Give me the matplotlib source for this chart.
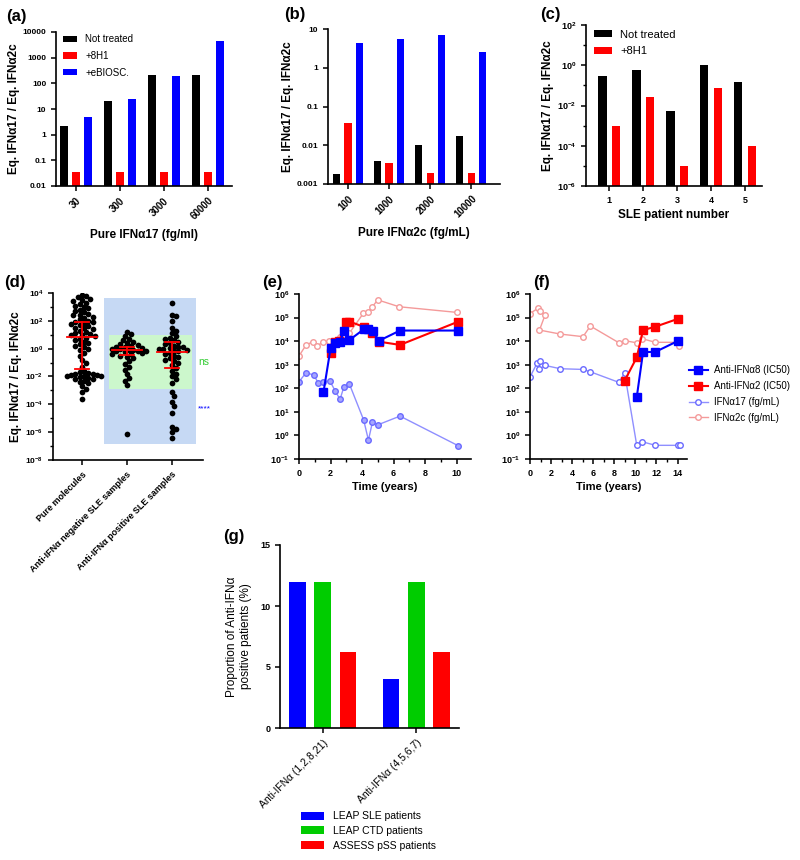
import numpy as np
import matplotlib
matplotlib.use("Agg")
import matplotlib.pyplot as plt
from matplotlib.patches import Rectangle
from matplotlib.lines import Line2D
from matplotlib.ticker import FixedLocator, NullLocator, NullFormatter

plt.rcParams['font.family'] = ['Liberation Sans', 'DejaVu Sans']
plt.rcParams['mathtext.fontset'] = 'custom'
plt.rcParams['mathtext.rm'] = 'Liberation Sans:bold'
plt.rcParams['mathtext.bf'] = 'Liberation Sans:bold'
plt.rcParams['mathtext.default'] = 'bf'
plt.rcParams['axes.linewidth'] = 1.2

# ---------------- data ----------------
# (a)
a_cats = ["30", "300", "3000", "60000"]
a_not = [2.2, 21, 215, 205]
a_8h1 = [0.036, 0.036, 0.036, 0.036]
a_ebio = [4.8, 24, 195, 4300]
# (b)
b_cats = ["100", "1000", "2000", "10000"]
b_not = [0.0018, 0.004, 0.0102, 0.017]
b_8h1 = [0.037, 0.0035, 0.0019, 0.0019]
b_ebio = [4.4, 5.6, 7.1, 2.6]
# (c)
c_pat = [1, 2, 3, 4, 5]
c_not = [0.29, 0.61, 0.0052, 0.98, 0.14]
c_8h1 = [0.00098, 0.025, 9.5e-6, 0.07, 1e-4]
# (d) log10 values of the individual samples
d_cats = ["Pure molecules", "Anti-IFN\u03b1 negative SLE samples", "Anti-IFN\u03b1 positive SLE samples"]
d_pure = [3.85, 3.75, 3.7, 3.6, 3.5, 3.45, 3.3, 3.2, 3.1, 3.0, 2.9, 2.8, 2.7, 2.6, 2.5,
          2.45, 2.4, 2.3, 2.2, 2.1, 2.0, 1.95, 1.9, 1.85, 1.8, 1.7, 1.6, 1.5, 1.45, 1.4,
          1.3, 1.2, 1.1, 1.05, 1.0, 0.95, 0.9, 0.8, 0.7, 0.6, 0.5, 0.4, 0.3, 0.2, 0.1,
          0.0, -0.1, -0.3, -0.5, -0.8, -1.0, -1.3, -1.6, -1.7, -1.75, -1.8, -1.85,
          -1.9, -1.9, -1.95, -2.0, -2.0, -2.05, -2.1, -2.15, -2.2, -2.3, -2.4, -2.5,
          -2.7, -2.9, -3.1, -3.6]
d_neg = [1.2, 1.05, 0.9, 0.7, 0.6, 0.5, 0.4, 0.3, 0.25, 0.2, 0.15, 0.1, 0.05, 0.0, -0.05,
         -0.1, -0.1, -0.15, -0.2, -0.2, -0.25, -0.3, -0.35, -0.4, -0.5, -0.6, -0.7, -0.9,
         -1.1, -1.3, -1.5, -1.8, -2.1, -2.3, -2.6, -6.1]
d_pos = [3.3, 2.45, 2.35, 2.0, 1.5, 1.3, 1.1, 0.9, 0.8, 0.7, 0.6, 0.5, 0.4, 0.3, 0.2, 0.15,
         0.1, 0.05, 0.0, -0.05, -0.1, -0.15, -0.2, -0.3, -0.4, -0.5, -0.6, -0.7, -0.8,
         -0.9, -1.0, -1.2, -1.4, -1.6, -1.8, -2.0, -2.2, -2.5, -3.1, -3.4, -3.8, -4.1,
         -4.6, -5.6, -5.8, -6.0, -6.4]
d_mean = [0.81, -0.1, -0.22]
d_hi = [1.94, 0.14, 0.47]
d_lo = [-1.49, -0.46, -1.37]
# (e) patient 1
e_a8_t = [1.55, 2.0, 2.3, 2.6, 2.85, 3.2, 4.1, 4.4, 4.7, 5.05, 6.4, 10.1]
e_a8_v = [1.83, 3.69, 3.93, 3.95, 4.44, 4.05, 4.5, 4.5, 4.45, 4.01, 4.45, 4.45]
e_a2_t = [2.0, 2.3, 2.55, 2.95, 3.2, 4.1, 4.65, 5.05, 6.4, 10.1]
e_a2_v = [3.51, 3.98, 4.0, 4.83, 4.83, 4.61, 4.36, 3.98, 3.84, 4.83]
e_17_t = [0, 0.45, 0.95, 1.2, 1.55, 1.95, 2.3, 2.6, 2.85, 3.2, 4.1, 4.4, 4.65, 5.0, 6.4, 10.1]
e_17_v = [2.28, 2.66, 2.56, 2.24, 2.27, 2.32, 1.88, 1.53, 2.07, 2.17, 0.65, -0.2, 0.55,
          0.45, 0.82, -0.44]
e_2c_t = [0, 0.45, 0.9, 1.16, 1.54, 1.92, 2.3, 2.6, 2.9, 3.18, 4.08, 4.38, 4.65, 4.99,
          6.34, 10.0]
e_2c_v = [3.37, 3.84, 3.98, 3.81, 3.96, 4.0, 3.95, 4.19, 4.25, 4.33, 5.18, 5.25, 5.46,
          5.75, 5.46, 5.22]
# (f) patient 2
f_a8_t = [10.13, 10.73, 11.88, 14.0]
f_a8_v = [1.62, 3.54, 3.54, 4.0]
f_a2_t = [8.98, 10.13, 10.73, 11.88, 14.0]
f_a2_v = [2.32, 3.31, 4.47, 4.61, 4.94]
f_17_t = [0, 0.7, 0.96, 0.9, 1.43, 2.87, 5.03, 5.73, 8.44, 8.98, 10.13, 10.67, 11.9, 14.0, 14.2]
f_17_v = [2.48, 3.09, 3.17, 2.82, 2.97, 2.83, 2.8, 2.7, 2.25, 2.65, -0.42, -0.27, -0.42,
          -0.42, -0.42]
f_2c_t = [0, 0.73, 0.96, 1.43, 0.9, 2.87, 5.03, 5.73, 8.44, 8.98, 10.13, 10.67, 11.9, 14.0, 14.1]
f_2c_v = [5.17, 5.39, 5.29, 5.11, 4.47, 4.3, 4.19, 4.64, 3.93, 4.02, 3.93, 4.1, 3.95,
          3.95, 3.81]
# (g)
g_cats = ["Anti-IFN\u03b1 (1,2,8,21)", "Anti-IFN\u03b1 (4,5,6,7)"]
g_sle = [12, 4]
g_ctd = [12, 12]
g_pss = [6.25, 6.25]

RED = '#ff0000'
BLUE = '#0000ff'
LRED = '#f49a9a'
LBLUE = '#8f8fff'
YLAB = 'Eq. IFN\u03b117 / Eq. IFN\u03b12c'

W, H = 800, 860
fig = plt.figure(figsize=(8, 8.6), dpi=100)


def add_ax(l, r, t, b):
    return fig.add_axes([l / W, 1 - b / H, (r - l) / W, (b - t) / H])


def style(ax, fs=6.5, xfs=None, bold=True):
    for s in ['top', 'right']:
        ax.spines[s].set_visible(False)
    ax.tick_params(labelsize=fs, length=3.5, width=1.1)
    if xfs:
        ax.tick_params(axis='x', labelsize=xfs)
    for lab in ax.get_xticklabels() + ax.get_yticklabels():
        lab.set_fontweight('bold' if bold else 'normal')


def label(x, y, s):
    fig.text(x / W, 1 - y / H, s, fontsize=12, fontweight='bold', va='center', ha='left')


def logticks(ax, exps, minor_exps=None, fmt=None):
    ax.yaxis.set_major_locator(FixedLocator([10.0 ** e for e in exps]))
    if fmt is None:
        ax.set_yticklabels([r'$10^{%d}$' % e for e in exps])
    else:
        ax.set_yticklabels(fmt)
    if minor_exps:
        ax.yaxis.set_minor_locator(FixedLocator([10.0 ** e for e in minor_exps]))
    else:
        ax.yaxis.set_minor_locator(NullLocator())
    ax.yaxis.set_minor_formatter(NullFormatter())
    ax.tick_params(axis='y', which='minor', length=2, width=1)


# ---------------- (a) ----------------
ax = add_ax(56, 232, 32, 186)
x = np.arange(len(a_cats))
ax.bar(x - 0.27, a_not, 0.18, color='black', label='Not treated')
ax.bar(x, a_8h1, 0.18, color=RED, label='+8H1')
ax.bar(x + 0.27, a_ebio, 0.18, color=BLUE, label='+eBIOSC.')
ax.set_yscale('log')
ax.set_ylim(0.01, 10000)
ax.set_xlim(-0.45, 3.55)
logticks(ax, [-2, -1, 0, 1, 2, 3, 4], fmt=['0.01', '0.1', '1', '10', '100', '1000', '10000'])
ax.set_xticks(x)
ax.set_xticklabels(a_cats, rotation=45, ha='right', rotation_mode='anchor')
ax.set_ylabel(YLAB, fontsize=8.5, fontweight='bold', labelpad=2)
ax.set_xlabel('Pure IFN\u03b117 (fg/ml)', fontsize=8.5, fontweight='bold', labelpad=5)
style(ax, 6, 7)
ax.legend(loc='upper left', bbox_to_anchor=(0.0, 1.03), frameon=False, fontsize=7,
          handlelength=1.5, handleheight=0.6, labelspacing=0.7, borderaxespad=0.3)
label(6, 17, '(a)')

# ---------------- (b) ----------------
ax = add_ax(328, 500, 29, 184)
x = np.arange(len(b_cats))
ax.bar(x - 0.28, b_not, 0.18, color='black')
ax.bar(x, b_8h1, 0.18, color=RED)
ax.bar(x + 0.28, b_ebio, 0.18, color=BLUE)
ax.set_yscale('log')
ax.set_ylim(0.001, 10)
ax.set_xlim(-0.49, 3.7)
logticks(ax, [-3, -2, -1, 0, 1], fmt=['0.001', '0.01', '0.1', '1', '10'])
ax.set_xticks(x)
ax.set_xticklabels(b_cats, rotation=45, ha='right', rotation_mode='anchor')
ax.set_ylabel(YLAB, fontsize=8.5, fontweight='bold', labelpad=2)
ax.set_xlabel('Pure IFN\u03b12c (fg/mL)', fontsize=8.5, fontweight='bold', labelpad=5)
style(ax, 6, 7)
label(284, 15, '(b)')

# ---------------- (c) ----------------
ax = add_ax(586, 762, 25, 186)
x = np.array(c_pat)
ax.bar(x - 0.2, c_not, 0.25, color='black', label='Not treated')
ax.bar(x + 0.2, c_8h1, 0.25, color=RED, label='+8H1')
ax.set_yscale('log')
ax.set_ylim(1e-6, 1e2)
ax.set_xlim(0.32, 5.5)
logticks(ax, [-6, -4, -2, 0, 2], minor_exps=[-5, -3, -1, 1])
ax.set_xticks(x)
ax.set_xlabel('SLE patient number', fontsize=8.5, fontweight='bold', labelpad=3)
ax.set_ylabel(YLAB, fontsize=8.5, fontweight='bold', labelpad=2)
style(ax, 6.5)
ax.legend(loc='upper left', bbox_to_anchor=(0.0, 1.02), frameon=False, fontsize=8,
          handlelength=1.6, handleheight=0.6, labelspacing=0.6, borderaxespad=0.3)
label(540, 15, '(c)')

# ---------------- (d) ----------------
ax = add_ax(53, 203, 293, 460)
ax.set_yscale('log')
ax.set_ylim(1e-8, 1e4)
ax.set_xlim(-0.64, 2.69)
ax.add_patch(Rectangle((0.5, 10 ** -6.86), 2.04, 10 ** 3.64 - 10 ** -6.86,
                       facecolor='#c6d9f4', edgecolor='none', zorder=0))
ax.add_patch(Rectangle((0.6, 10 ** -2.9), 1.84, 10 - 10 ** -2.9,
                       facecolor='#ccf7cc', edgecolor='none', zorder=0.5))
ppd = 167 / 12.0   # pixels per decade
dot = 5.4          # dot diameter in pixels
for i, vals in enumerate([d_pure, d_neg, d_pos]):
    placed = []
    xs = []
    ys = sorted(vals, reverse=True)
    for v in ys:
        yy = v * ppd
        cands = [0.0]
        for k in range(1, 30):
            cands += [k * dot * 0.4, -k * dot * 0.4]
        for c in cands:
            if all((c - px) ** 2 + (yy - py) ** 2 >= (dot * 0.8) ** 2 for px, py in placed):
                break
        placed.append((c, yy))
        xs.append(i + c / 45.0)
    ax.scatter(xs, [10 ** v for v in ys], s=17, color='black', zorder=3, linewidths=0)
    ax.plot([i - 0.33, i + 0.33], [10 ** d_mean[i]] * 2, color=RED, lw=1.3, zorder=4)
    ax.plot([i, i], [10 ** d_lo[i], 10 ** d_hi[i]], color=RED, lw=1.3, zorder=4)
    for e in (d_lo[i], d_hi[i]):
        ax.plot([i - 0.16, i + 0.16], [10 ** e] * 2, color=RED, lw=1.3, zorder=4)
logticks(ax, [-8, -6, -4, -2, 0, 2, 4], minor_exps=[-7, -5, -3, -1, 1, 3])
ax.set_xticks([0, 1, 2])
ax.set_xticklabels(d_cats, rotation=45, ha='right', rotation_mode='anchor')
ax.set_ylabel(YLAB, fontsize=8.5, fontweight='bold', labelpad=2)
style(ax, 6, 6.5)
fig.text(198 / W, 1 - 362 / H, 'ns', color='#33cc33', fontsize=7.5, va='center')
fig.text(198 / W, 1 - 409 / H, '****', color=BLUE, fontsize=6, va='center')
label(4, 283, '(d)')


# ---------------- (e), (f) ----------------
def timecourse(ax, a8t, a8v, a2t, a2v, t17, v17, t2c, v2c, fill17):
    ax.plot(t2c, [10 ** v for v in v2c], color=LRED, lw=1, marker='o', ms=4,
            mfc='white', mec=LRED, mew=1, zorder=2)
    ax.plot(t17, [10 ** v for v in v17], color=LBLUE, lw=1, marker='o', ms=4,
            mfc=fill17, mec='#6a6aff', mew=1, zorder=2)
    ax.plot(a2t, [10 ** v for v in a2v], color=RED, lw=1.5, marker='s', ms=6, zorder=3)
    ax.plot(a8t, [10 ** v for v in a8v], color=BLUE, lw=1.5, marker='s', ms=6, zorder=4)
    ax.set_yscale('log')
    ax.set_ylim(0.1, 1e6)
    logticks(ax, [-1, 0, 1, 2, 3, 4, 5, 6])
    ax.set_xlabel('Time (years)', fontsize=8, fontweight='bold', labelpad=3)
    ax.tick_params(axis='x', which='minor', length=2, width=1)


ax = add_ax(299, 471, 294, 459)
timecourse(ax, e_a8_t, e_a8_v, e_a2_t, e_a2_v, e_17_t, e_17_v, e_2c_t, e_2c_v, '#a6a6ff')
ax.set_xlim(0, 10.9)
ax.set_xticks([0, 2, 4, 6, 8, 10])
ax.set_xticks([1, 3, 5, 7, 9], minor=True)
style(ax, 6.5)
label(262, 283, '(e)')

ax = add_ax(530, 687, 294, 459)
timecourse(ax, f_a8_t, f_a8_v, f_a2_t, f_a2_v, f_17_t, f_17_v, f_2c_t, f_2c_v, 'white')
ax.set_xlim(0, 14.9)
ax.set_xticks([0, 2, 4, 6, 8, 10, 12, 14])
ax.set_xticks([1, 3, 5, 7, 9, 11, 13], minor=True)
style(ax, 6.5)
label(533, 283, '(f)')
handles = [
    Line2D([], [], color=BLUE, lw=1.5, marker='s', ms=6),
    Line2D([], [], color=RED, lw=1.5, marker='s', ms=6),
    Line2D([], [], color=LBLUE, lw=1, marker='o', ms=4, mfc='white', mec='#6a6aff'),
    Line2D([], [], color=LRED, lw=1, marker='o', ms=4, mfc='white', mec=LRED),
]
labels = ['Anti-IFN\u03b18 (IC50)', 'Anti-IFN\u03b12 (IC50)', 'IFN\u03b117 (fg/mL)',
          'IFN\u03b12c (fg/mL)']
fig.legend(handles, labels, loc='center left', bbox_to_anchor=(680 / W, 1 - 394 / H),
           frameon=False, fontsize=7, handlelength=2.0, handletextpad=0.6, labelspacing=0.6)

# ---------------- (g) ----------------
ax = add_ax(280, 459, 545, 728)
x = np.arange(len(g_cats))
b1 = ax.bar(x - 0.27, g_sle, 0.18, color=BLUE)
b2 = ax.bar(x, g_ctd, 0.18, color='#00cc00')
b3 = ax.bar(x + 0.27, g_pss, 0.18, color=RED)
ax.set_ylim(0, 15)
ax.set_xlim(-0.46, 1.46)
ax.set_yticks([0, 5, 10, 15])
ax.set_xticks(x)
ax.set_xticklabels(g_cats, rotation=45, ha='right', rotation_mode='anchor')
ax.set_ylabel('Proportion of Anti-IFN\u03b1\npositive patients (%)', fontsize=8.5, labelpad=6)
style(ax, 6.5)
for lab in ax.get_xticklabels():
    lab.set_fontweight('normal')
    lab.set_fontsize(7.5)
fig.legend([b1, b2, b3], ['LEAP SLE patients', 'LEAP CTD patients', 'ASSESS pSS patients'],
           loc='upper left', bbox_to_anchor=(292 / W, 1 - 802 / H), frameon=False,
           fontsize=7.5, handlelength=2.2, handleheight=0.8, labelspacing=0.45)
label(223, 536, '(g)')

fig.savefig('out.png', dpi=100)
